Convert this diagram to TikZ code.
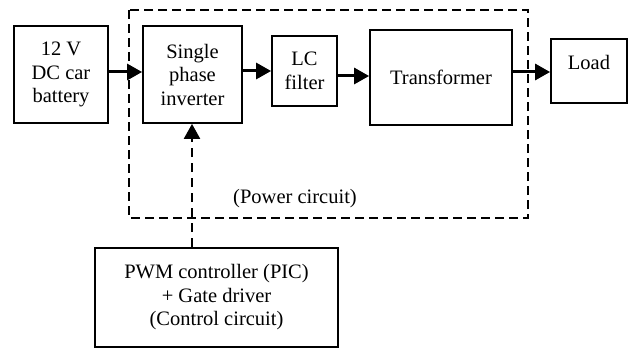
\documentclass[tikz,border=0pt]{standalone}
\usepackage{fontspec}
\setmainfont{Liberation Serif}
\usetikzlibrary{arrows.meta}
\begin{document}
\begin{tikzpicture}[x=1pt,y=-1pt,
  txt/.style={font=\fontsize{20.5}{23.5}\selectfont},
  blk/.style={draw, line width=1.8pt, inner sep=0pt, align=center, txt},
  flow/.style={line width=3pt, -{Triangle[length=15pt,width=16pt]}},
  ctrl/.style={line width=2.4pt, dash pattern=on 9pt off 6pt, -{Triangle[length=15pt,width=16pt]}},
  region/.style={line width=2pt, dash pattern=on 9pt off 5pt}]
\useasboundingbox (0,0) rectangle (631,350);
\node[blk, minimum width=94pt, minimum height=97pt] (bat) at (61,74.5) {12 V\\DC car\\battery};
\node[blk, minimum width=99pt, minimum height=97pt] (inv) at (192.5,74.5) {Single\\phase\\inverter};
\node[blk, minimum width=65pt, minimum height=70pt] (lc) at (304.5,71) {LC\\filter};
\node[blk, minimum width=142pt, minimum height=95pt] (tr) at (441,77.5) {Transformer};
\node[blk, minimum width=76pt, minimum height=64pt] (load) at (589,71) {};
\node[txt] (loadtxt) at ([yshift=9pt]load.center) {Load};
\node[blk, minimum width=243pt, minimum height=99pt] (pwm) at (216.5,297.5) {PWM controller (PIC)\\+ Gate driver\\(Control circuit)};
\draw[region] (129,10) rectangle (528,218);
\node[txt] (pc) at (295,199) {(Power circuit)};
\draw[flow] (bat.east |- 0,72) -- (inv.west |- 0,72);
\draw[flow] (inv.east |- 0,71) -- (lc.west |- 0,71);
\draw[flow] (lc.east |- 0,76) -- (tr.west |- 0,76);
\draw[flow] (tr.east |- 0,72) -- (load.west |- 0,72);
\draw[ctrl] (pwm.north -| 192,0) -- (inv.south -| 192,0);
\end{tikzpicture}
\end{document}
